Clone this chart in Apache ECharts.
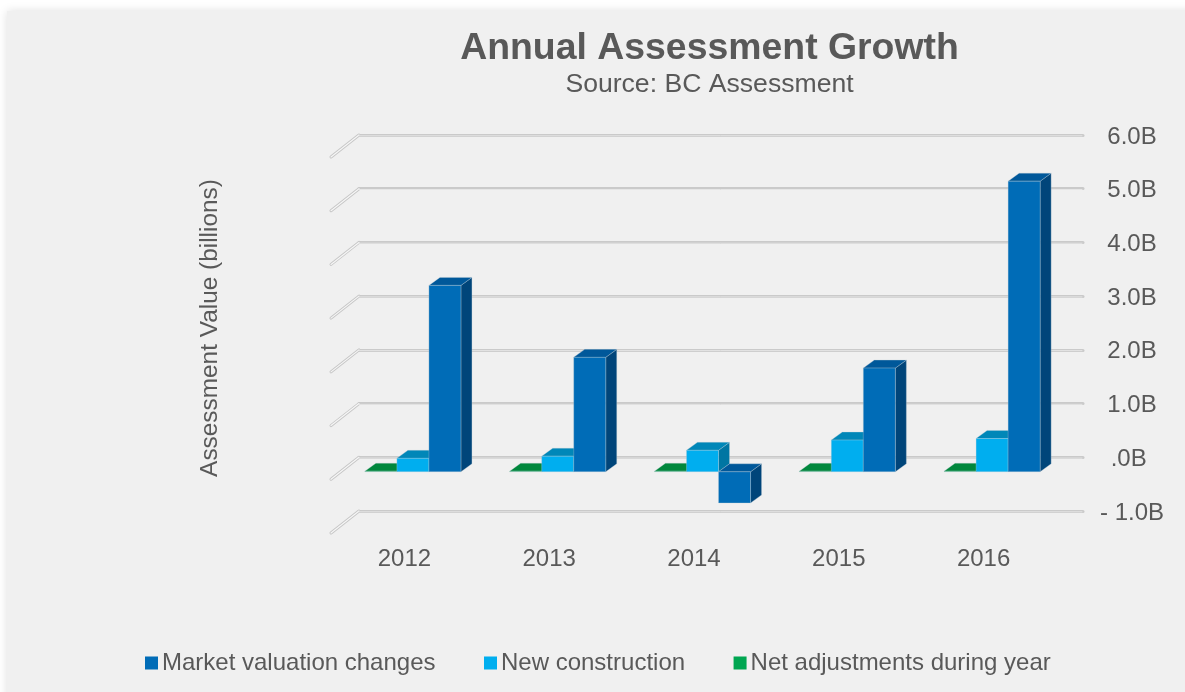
<!DOCTYPE html>
<html><head><meta charset="utf-8">
<style>html,body{margin:0;padding:0;background:#fff;overflow:hidden}#c{width:1185px;height:692px}</style>
<script src="https://cdn.jsdelivr.net/npm/echarts@6/dist/echarts.min.js"></script>
</head><body><div id="c"></div>
<script>
const years = ['2012','2013','2014','2015','2016'];
const marketValuation = [3.47, 2.13, -0.58, 1.93, 5.41];
const newConstruction = [0.25, 0.29, 0.40, 0.59, 0.62];
const netAdjustments = [0.01, 0.01, 0.01, 0.01, 0.01];
const yTicks = [-1, 0, 1, 2, 3, 4, 5, 6];
const yTickLabels = ['- 1.0B', '.0B ', '1.0B', '2.0B', '3.0B', '4.0B', '5.0B', '6.0B'];
const seriesNames = ['Market valuation changes', 'New construction', 'Net adjustments during year'];

const FONT = '"Liberation Sans", Arial, sans-serif';
const TXT = '#595959';
const chart = echarts.init(document.getElementById('c'), null, {renderer: 'canvas'});

function barSeries(name, values, slot, colors) {
  return {
    name, type: 'custom', coordinateSystem: 'cartesian2d', z: 5,
    itemStyle: {color: colors.front},
    data: values.map((v, i) => [i, v]),
    renderItem(params, api) {
      const cat = api.value(0), val = api.value(1);
      const base = api.coord([cat, 0]), tip = api.coord([cat, val]);
      const band = api.size([1, 0])[0];
      const w = band * 0.2212;
      const x0 = base[0] - 18.5 + slot * w - w / 2, x1 = x0 + w;
      const y0 = Math.min(base[1], tip[1]) + 14.5, y1 = Math.max(base[1], tip[1]) + 14.5;
      const dx = 11, dy = 8;
      const edge = {stroke: 'rgba(190,205,215,0.45)', lineWidth: 0.7};
      return {type: 'group', children: [
        {type: 'polygon', shape: {points: [[x1, y0], [x1 + dx, y0 - dy], [x1 + dx, y1 - dy], [x1, y1]]}, style: {fill: colors.side, ...edge}},
        {type: 'polygon', shape: {points: [[x0, y0], [x0 + dx, y0 - dy], [x1 + dx, y0 - dy], [x1, y0]]}, style: {fill: colors.top, ...edge}},
        {type: 'rect', shape: {x: x0, y: y0, width: w, height: y1 - y0}, style: {fill: colors.front, ...edge}}
      ]};
    }
  };
}

const gridWalls = {
  name: 'walls', type: 'custom', coordinateSystem: 'cartesian2d', z: 1, silent: true,
  data: yTicks.map(v => [0, v]),
  renderItem(params, api) {
    const p = api.coord([0, api.value(1)]);
    const cs = params.coordSys;
    const x = cs.x, y = p[1];
    const pts = [[x - 28, y + 22], [x, y]];
    return {type: 'group', children: [
      {type: 'polyline', shape: {points: pts}, style: {stroke: '#c6c6c6', lineWidth: 3, lineCap: 'round', fill: null}},
      {type: 'polyline', shape: {points: pts}, style: {stroke: '#f6f6f6', lineWidth: 1.2, lineCap: 'round', fill: null}},
      {type: 'line', shape: {x1: x, y1: y + 0.8, x2: x + cs.width - 1, y2: y + 0.8}, style: {stroke: '#e6e6e6', lineWidth: 1, lineCap: 'round'}}
    ]};
  }
};

chart.setOption({
  animation: false,
  backgroundColor: '#ffffff',
  textStyle: {fontFamily: FONT, color: TXT},
  title: {
    text: 'Annual Assessment Growth', subtext: 'Source: BC Assessment',
    left: 704.5, top: 25, textAlign: 'center', itemGap: 4,
    textStyle: {fontFamily: FONT, fontSize: 37.4, fontWeight: 'bold', color: TXT},
    subtextStyle: {fontFamily: FONT, fontSize: 26.6, color: TXT}
  },
  graphic: [{type: 'rect', z: -10, silent: true, shape: {x: 7, y: 11, width: 1200, height: 700},
    style: {fill: '#f0f0f0', shadowBlur: 9, shadowColor: 'rgba(0,0,0,0.13)'}}],
  legend: {
    left: 140, top: 646, icon: 'rect', itemWidth: 13, itemHeight: 13, itemGap: 48.5,
    data: seriesNames, textStyle: {fontFamily: FONT, fontSize: 24, color: TXT, padding: [0, 0, 0, -1]}
  },
  grid: {left: 359, right: 102, top: 135, bottom: 181},
  xAxis: {
    type: 'category', data: years,
    axisLine: {show: false, onZero: false}, axisTick: {show: false},
    axisLabel: {fontFamily: FONT, fontSize: 24, color: TXT, margin: 36, padding: [0, 54, 0, 0]}
  },
  yAxis: {
    type: 'value', position: 'right', min: -1, max: 6, interval: 1,
    name: 'Assessment Value (billions)', nameLocation: 'middle', nameRotate: 90, nameGap: -885,
    nameMoveOverlap: false,
    nameTextStyle: {fontFamily: FONT, fontSize: 24.4, color: TXT, padding: [0, 10, 0, 0]},
    axisLine: {show: false}, axisTick: {show: false},
    splitLine: {show: true, lineStyle: {color: '#cacaca', width: 3, cap: 'round'}},
    axisLabel: {fontFamily: FONT, fontSize: 24, color: TXT, margin: 49, align: 'center',
      rich: {t: {fontFamily: FONT, fontSize: 24, color: TXT, padding: [4, 0, 0, 0]}},
      formatter: v => '{t|' + yTickLabels[yTicks.indexOf(v)] + '}'}
  },
  series: [
    gridWalls,
    barSeries(seriesNames[2], netAdjustments, -1, {front: '#00a651', side: '#00703c', top: '#00873c'}),
    barSeries(seriesNames[1], newConstruction, 0, {front: '#00aeef', side: '#0076a3', top: '#0087b8'}),
    barSeries(seriesNames[0], marketValuation, 1, {front: '#006cb7', side: '#00457a', top: '#00589a'})
  ]
});
</script></body></html>
